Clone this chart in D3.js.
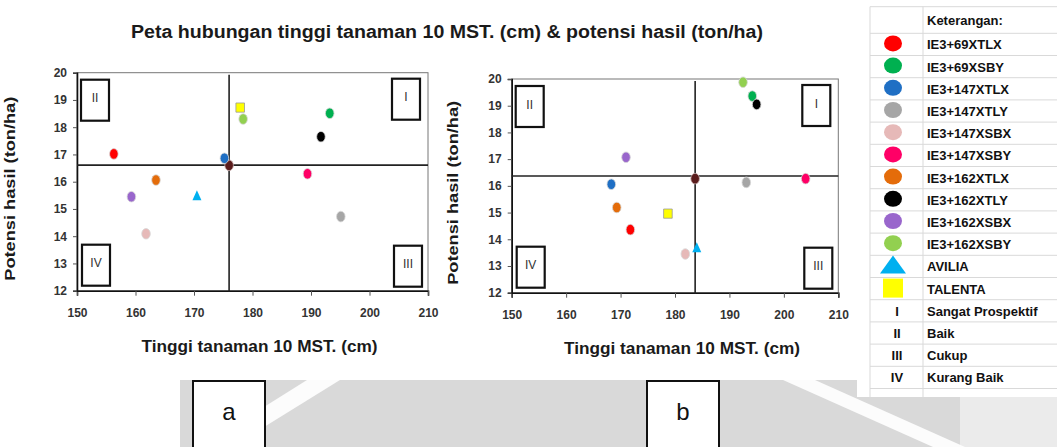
<!DOCTYPE html>
<html lang="id">
<head>
<meta charset="UTF-8">
<title>Peta hubungan tinggi tanaman</title>
<script src="https://cdn.jsdelivr.net/npm/d3@7"></script>
<style>
    body{ margin:0; background:#fff; }
    svg{ display:block; font-family:"Liberation Sans", Arial, sans-serif; }
    .tick text{ font-size:12px; font-weight:bold; fill:#333; }
</style>
</head>
<body>
<svg width="1057" height="447"></svg>
<script>
    // data
    var genotypes = ["IE3+69XTLX","IE3+69XSBY","IE3+147XTLX","IE3+147XTLY","IE3+147XSBX","IE3+147XSBY",
                     "IE3+162XTLX","IE3+162XTLY","IE3+162XSBX","IE3+162XSBY","AVILIA","TALENTA"];
    var colors = ["#ff0000","#00b050","#1f6fc4","#a6a6a6","#e6b9b8","#ff0066",
                  "#e46c0a","#000000","#9966cc","#92d050","#00b0f0","#ffff00"];
    var shapes = ["circle","circle","circle","circle","circle","circle",
                  "circle","circle","circle","circle","triangle","square"];

    var heightA = [156.3, 193.2, 175.2, 195.1, 161.8, 189.4, 163.5, 191.7, 159.3, 178.4, 170.5, 177.9];
    var yieldA  = [17.02, 18.51, 16.86, 14.72, 14.09, 16.29, 16.06, 17.65, 15.45, 18.30, 15.48, 18.72];
    var heightB = [171.8, 194.2, 168.3, 193.1, 181.9, 204.0, 169.3, 195.0, 171.0, 192.5, 184.0, 178.7];
    var yieldB  = [14.36, 19.36, 16.06, 16.13, 13.45, 16.27, 15.19, 19.05, 17.07, 19.88, 13.68, 14.96];

    // rata-rata (garis kuadran) and the dark dot sitting on the crossing
    var meanA = [176.0, 16.61];
    var meanB = [183.7, 16.37];
    var meanDotA = [176.0, 16.60];
    var meanDotB = [183.7, 16.27];

    var xTicks = [150, 160, 170, 180, 190, 200, 210];
    var yTicks = [12, 13, 14, 15, 16, 17, 18, 19, 20];
    var quadrants = ["I", "II", "III", "IV"];
    var quadrantNames = ["Sangat Prospektif", "Baik", "Cukup", "Kurang Baik"];
    var panelLabels = ["a", "b"];

    var title = "Peta hubungan tinggi tanaman 10 MST. (cm) & potensi hasil (ton/ha)";
    var xTitle = "Tinggi  tanaman  10 MST. (cm)";
    var yTitle = "Potensi hasil  (ton/ha)";

    var svg = d3.select("svg");

    // watermark-ish grey band at the bottom
    var bg = svg.append("g").attr("class", "bg");
    bg.append("rect").attr("x", 180).attr("y", 380).attr("width", 877).attr("height", 67).attr("fill", "#d9d9d9");
    bg.append("rect").attr("x", 960).attr("y", 380).attr("width", 97).attr("height", 67).attr("fill", "#ebebeb");
    bg.append("polygon").attr("points", "307,380 340,380 232,447 200,447").attr("fill", "#fff").attr("opacity", 0.9);
    bg.append("polygon").attr("points", "783,380 815,380 965,447 933,447").attr("fill", "#fff").attr("opacity", 0.9);

    svg.append("text")
        .attr("x", 447).attr("y", 38)
        .attr("text-anchor", "middle")
        .attr("font-size", "17.5px").attr("font-weight", "bold").attr("fill", "#1a1a1a")
        .attr("textLength", 632).attr("lengthAdjust", "spacingAndGlyphs")
        .text(title);

    var panels = [
        {x: heightA, y: yieldA, mean: meanA, dot: meanDotA, left: 77, right: 428, top: 72.7, bottom: 290.7, ylab: 20, xlabY: 352},
        {x: heightB, y: yieldB, mean: meanB, dot: meanDotB, left: 511.7, right: 838.3, top: 79, bottom: 292.7, ylab: 463, xlabY: 354}
    ];

    function shapePath(s, cx, cy) {
        if (s === "triangle") {
            return "M" + cx + "," + (cy - 5.5) + "L" + (cx + 4.5) + "," + (cy + 4.5) + "L" + (cx - 4.5) + "," + (cy + 4.5) + "Z";
        }
        return "M" + (cx - 4.3) + "," + (cy - 4.6) + "h8.6v9.2h-8.6Z";
    }

    panels.forEach(function (p, pi) {
        var x = d3.scaleLinear().domain([150, 210]).range([p.left, p.right]);
        var y = d3.scaleLinear().domain([12, 20]).range([p.bottom, p.top]);
        var g = svg.append("g");

        // frame
        g.append("rect")
            .attr("x", p.left).attr("y", p.top)
            .attr("width", p.right - p.left).attr("height", p.bottom - p.top)
            .attr("fill", "#fff").attr("stroke", "#777").attr("stroke-width", 1);

        g.append("g").attr("transform", "translate(0," + p.bottom + ")")
            .call(d3.axisBottom(x).tickValues(xTicks).tickSize(5).tickPadding(13));
        g.append("g").attr("transform", "translate(" + p.left + ",0)")
            .call(d3.axisLeft(y).tickValues(yTicks).tickSize(4).tickPadding(6));
        g.selectAll(".domain").attr("stroke", "#111").attr("stroke-width", 1.6);
        g.selectAll(".tick line").attr("stroke", "#555");

        // quadrant lines
        g.append("line")
            .attr("x1", p.left).attr("x2", p.right)
            .attr("y1", y(p.mean[1])).attr("y2", y(p.mean[1]))
            .attr("stroke", "#222").attr("stroke-width", 1.6);
        g.append("line")
            .attr("x1", x(p.mean[0])).attr("x2", x(p.mean[0]))
            .attr("y1", p.top + 2).attr("y2", p.bottom + 1)
            .attr("stroke", "#222").attr("stroke-width", 1.6);

        // quadrant boxes
        var bw = 28, bh = 41;
        var boxes = [
            {q: 0, bx: p.right - bw - 8, by: p.top + 6},
            {q: 1, bx: p.left + 4, by: p.top + 7},
            {q: 2, bx: p.right - bw - 6, by: p.bottom - bh - 4},
            {q: 3, bx: p.left + 5, by: p.bottom - bh - 5}
        ];
        var qb = g.selectAll(".qbox").data(boxes).enter().append("g");
        qb.append("rect")
            .attr("x", function (d) { return d.bx; }).attr("y", function (d) { return d.by; })
            .attr("width", bw).attr("height", bh)
            .attr("fill", "#fff").attr("stroke", "#111").attr("stroke-width", 2.2);
        qb.append("text")
            .attr("x", function (d) { return d.bx + bw / 2; })
            .attr("y", function (d) { return d.by + bh / 2 + 2; })
            .attr("text-anchor", "middle")
            .attr("font-size", "12px").attr("fill", "#333")
            .text(function (d) { return quadrants[d.q]; });

        // mean dot
        g.append("ellipse")
            .attr("cx", x(p.dot[0])).attr("cy", y(p.dot[1]))
            .attr("rx", 4.3).attr("ry", 5.3)
            .attr("fill", "#5a1c1c").attr("stroke", "#c9b3b3").attr("stroke-width", 0.8);

        var idx = d3.range(genotypes.length);
        var pts = g.selectAll(".pt").data(idx).enter();
        pts.filter(function (i) { return shapes[i] === "circle"; }).append("ellipse")
            .attr("cx", function (i) { return x(p.x[i]); })
            .attr("cy", function (i) { return y(p.y[i]); })
            .attr("rx", 4.3).attr("ry", 5.3)
            .attr("fill", function (i) { return colors[i]; })
            .attr("stroke", "#d8d8d8").attr("stroke-width", 0.8);
        pts.filter(function (i) { return shapes[i] !== "circle"; }).append("path")
            .attr("d", function (i) { return shapePath(shapes[i], x(p.x[i]), y(p.y[i])); })
            .attr("fill", function (i) { return colors[i]; })
            .attr("stroke", function (i) { return shapes[i] === "square" ? "#999" : "none"; })
            .attr("stroke-width", 0.8);

        // axis titles
        g.append("text")
            .attr("x", (p.left + p.right) / 2 + 7).attr("y", p.xlabY)
            .attr("text-anchor", "middle")
            .attr("font-size", "16px").attr("font-weight", "bold").attr("fill", "#1a1a1a")
            .attr("textLength", 236).attr("lengthAdjust", "spacingAndGlyphs")
            .text(xTitle);
        g.append("text")
            .attr("transform", "translate(" + (p.ylab - 5) + "," + ((p.top + p.bottom) / 2 + 7) + ") rotate(-90)")
            .attr("text-anchor", "middle")
            .attr("font-size", "15.5px").attr("font-weight", "bold").attr("fill", "#1a1a1a")
            .attr("textLength", 184).attr("lengthAdjust", "spacingAndGlyphs")
            .text(yTitle);
    });

    // legend table
    var lg = svg.append("g").attr("class", "legend");
    var rowTop = 33.3, rowH = 22.2;
    lg.append("rect").attr("x", 857).attr("y", 0).attr("width", 200).attr("height", 397).attr("fill", "#fff");
    var lineYs = [6.7].concat(d3.range(17).map(function (k) { return rowTop + k * rowH; }));
    lg.selectAll(".hl").data(lineYs).enter().append("line")
        .attr("x1", 870).attr("x2", 1057)
        .attr("y1", function (d) { return d; }).attr("y2", function (d) { return d; })
        .attr("stroke", "#d9d9d9").attr("stroke-width", 1);
    [870, 923].forEach(function (vx) {
        lg.append("line").attr("x1", vx).attr("x2", vx).attr("y1", 6.7).attr("y2", 397)
            .attr("stroke", "#d9d9d9").attr("stroke-width", 1);
    });
    lg.append("text").attr("x", 927).attr("y", 25)
        .attr("font-size", "13px").attr("font-weight", "bold").attr("fill", "#111")
        .text("Keterangan:");

    var legendRows = genotypes.map(function (name, i) { return {name: name, i: i}; });
    var lr = lg.selectAll(".lrow").data(legendRows).enter().append("g")
        .attr("transform", function (d) { return "translate(0," + (rowTop + d.i * rowH + rowH / 2) + ")"; });
    lr.append("text").attr("x", 927).attr("y", 5)
        .attr("font-size", "13px").attr("font-weight", "bold").attr("fill", "#111")
        .text(function (d) { return d.name; });
    lr.filter(function (d) { return shapes[d.i] === "circle"; }).append("ellipse")
        .attr("cx", 893).attr("cy", -1).attr("rx", 9).attr("ry", 8)
        .attr("fill", function (d) { return colors[d.i]; });
    lr.filter(function (d) { return shapes[d.i] === "triangle"; }).append("path")
        .attr("d", "M893,-11L906,7L880,7Z")
        .attr("fill", function (d) { return colors[d.i]; });
    lr.filter(function (d) { return shapes[d.i] === "square"; }).append("rect")
        .attr("x", 883).attr("y", -10).attr("width", 20).attr("height", 19)
        .attr("fill", function (d) { return colors[d.i]; });

    var qr = lg.selectAll(".qrow").data(quadrants).enter().append("g")
        .attr("transform", function (d, k) { return "translate(0," + (rowTop + (genotypes.length + k) * rowH + rowH / 2) + ")"; });
    qr.append("text").attr("x", 897).attr("y", 5).attr("text-anchor", "middle")
        .attr("font-size", "13px").attr("font-weight", "bold").attr("fill", "#111")
        .text(function (d) { return d; });
    qr.append("text").attr("x", 927).attr("y", 5)
        .attr("font-size", "13px").attr("font-weight", "bold").attr("fill", "#111")
        .text(function (d, k) { return quadrantNames[k]; });

    // panel labels a / b
    var pl = svg.selectAll(".plab").data(panelLabels).enter().append("g");
    pl.append("rect")
        .attr("x", function (d, k) { return k === 0 ? 193 : 647; }).attr("y", 381)
        .attr("width", 72).attr("height", 70)
        .attr("fill", "#fff").attr("stroke", "#111").attr("stroke-width", 2);
    pl.append("text")
        .attr("x", function (d, k) { return k === 0 ? 229 : 683; }).attr("y", 420)
        .attr("text-anchor", "middle")
        .attr("font-size", "24px").attr("fill", "#111")
        .text(function (d) { return d; });
</script>
</body>
</html>
